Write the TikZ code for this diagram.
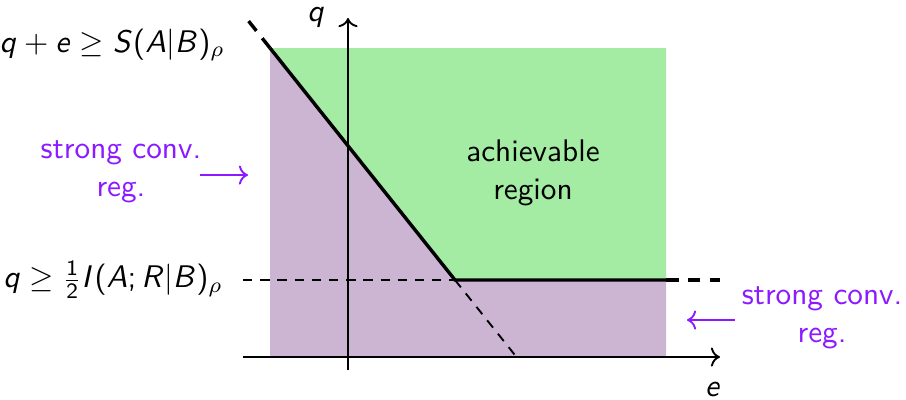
\documentclass[tikz,border=0pt]{standalone}
\usepackage{amsmath}
\usepackage{xcolor}
\definecolor{AchGreen}{RGB}{164,236,164}
\definecolor{ConvPurple}{RGB}{203,181,211}
\definecolor{ConvText}{RGB}{140,25,255}
\usetikzlibrary{arrows.meta}
% sans serif maths as on the slides
\DeclareSymbolFont{sfitalic}{OT1}{cmss}{m}{sl}
\SetSymbolFont{operators}{normal}{OT1}{cmss}{m}{n}
\DeclareMathSymbol{q}{\mathalpha}{sfitalic}{`q}
\DeclareMathSymbol{e}{\mathalpha}{sfitalic}{`e}
\DeclareMathSymbol{S}{\mathalpha}{sfitalic}{`S}
\DeclareMathSymbol{A}{\mathalpha}{sfitalic}{`A}
\DeclareMathSymbol{B}{\mathalpha}{sfitalic}{`B}
\DeclareMathSymbol{I}{\mathalpha}{sfitalic}{`I}
\DeclareMathSymbol{R}{\mathalpha}{sfitalic}{`R}

\begin{document}
\begin{tikzpicture}[x=0.32pt, y=0.32pt, font=\sffamily,
        axis/.style={->, >=To, black, semithick},
        bound/.style={black, line width=1.1pt},
        extra/.style={black, line width=1.1pt, dash pattern=on 4pt off 3pt},
        guide/.style={black, semithick, dash pattern=on 3pt off 2.5pt},
        conv/.style={ConvText, align=center},
        convarr/.style={->, >=To, ConvText, semithick}
      ]
        \useasboundingbox (-348,-42) rectangle (558,357);
        % corners of the region
        \coordinate (O) at (0,0);
        \coordinate (lo) at (-78,0);
        \coordinate (tl) at (-78,309);
        \coordinate (tr) at (318,309);
        \coordinate (kink) at (107,77);
        \coordinate (rr) at (318,77);
        \coordinate (br) at (318,0);

        \fill[ConvPurple] (lo) -- (tl) -- (kink) -- (rr) -- (br) -- cycle;
        \fill[AchGreen] (tl) -- (tr) -- (rr) -- (kink) -- cycle;

        % axes
        \coordinate (xs) at (-105,0);
        \coordinate (xe) at (372,0);
        \coordinate (ys) at (0,-13);
        \coordinate (ye) at (0,339);
        \draw[axis] (xs) -- (xe);
        \draw[axis] (ys) -- (ye);
        \node (qlab) at (-32,339) {$q$};
        \node (elab) at (365,-33) {$e$};

        % bounds
        \coordinate (up) at (-105,343);
        \coordinate (rend) at (372,77);
        \coordinate (lend) at (-105,77);
        \coordinate (cut) at (168.5,0);
        \draw[guide] (lend) -- (kink);
        \draw[guide] (kink) -- (cut);
        \draw[bound] (tl) -- (kink) -- (rr);
        \draw[extra] (tl) -- (up);
        \draw[extra] (rr) -- (rend);

        \node[anchor=east] (sbound) at (-112,312) {$q+e\geq S(A|B)_\rho$};
        \node[anchor=east] (ibound) at (-114,77) {$q\geq \tfrac{1}{2}I(A;R|B)_\rho$};

        \node[align=center] (ach) at (185,184) {achievable\\region};

        \node[conv] (lconv) at (-227,185) {strong conv.\\reg.};
        \coordinate (la) at (-148,182);
        \coordinate (lb) at (-100,182);
        \draw[convarr] (la) -- (lb);
        \node[conv] (rconv) at (474,39) {strong conv.\\reg.};
        \coordinate (ra) at (387,37);
        \coordinate (rb) at (339,37);
        \draw[convarr] (ra) -- (rb);
      \end{tikzpicture}
\end{document}
